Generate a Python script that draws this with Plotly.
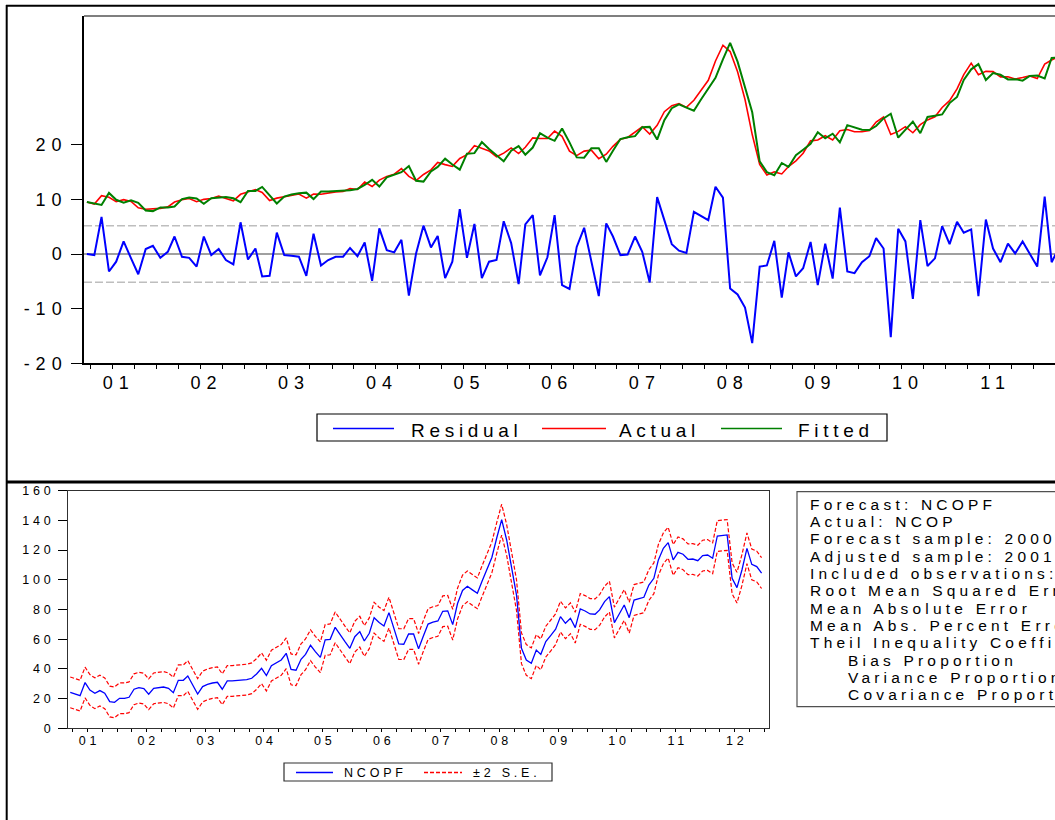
import pandas as pd
import plotly.graph_objects as go

# ---------------- data (monthly, 2001M03 ... 2012M12) ----------------
fitted = [24.2, 22.9, 22.0, 30.8, 25.8, 23.6, 25.4, 23.6, 18.0, 17.5,
          20.2, 20.2, 20.9, 26.3, 27.4, 26.7, 22.9, 26.9, 27.6, 27.8,
          26.9, 24.0, 32.3, 32.3, 35.2, 29.2, 23.1, 28.1, 29.6, 30.5,
          31.0, 26.3, 31.9, 31.9, 32.1, 32.4, 32.8, 33.7, 36.6, 40.4,
          35.5, 42.2, 44.2, 46.0, 50.5, 39.7, 39.1, 46.5, 49.8, 55.9,
          51.6, 47.8, 59.5, 59.9, 68.0, 62.9, 58.4, 53.9, 61.7, 65.1,
          58.8, 64.0, 74.5, 71.2, 68.9, 77.9, 67.8, 56.8, 56.6, 63.5,
          63.5, 53.5, 61.7, 70.2, 71.5, 72.3, 78.8, 79.1, 69.8, 84.0,
          92.8, 95.6, 93.2, 90.9, 99.0, 107.0, 115.0, 128.5, 140.5, 126.8,
          108.9, 89.8, 53.9, 46.0, 43.8, 52.7, 49.8, 58.4, 62.4, 66.7,
          75.2, 70.7, 74.1, 67.8, 80.4, 79.0, 77.0, 76.8, 79.7, 85.3,
          88.7, 71.2, 77.0, 83.0, 74.5, 86.4, 87.3, 88.2, 96.5, 101.0,
          113.4, 121.2, 125.0, 113.4, 118.5, 117.2, 113.8, 114.0, 112.9, 116.3,
          116.7, 114.5, 129.5, 129.7, 130.2, 101.0, 94.7, 106.6, 121.2, 110.4,
          108.9, 104.5]

actual = [24.2, 22.7, 28.8, 27.6, 24.4, 25.9, 24.6, 19.9, 18.9, 19.0,
          19.5, 20.6, 24.1, 25.8, 26.7, 24.4, 26.1, 26.7, 28.5, 26.7,
          25.0, 29.8, 31.3, 33.3, 31.1, 25.2, 27.0, 27.9, 29.3, 30.0,
          27.0, 30.0, 29.8, 30.8, 31.6, 31.9, 33.9, 33.3, 38.7, 35.5,
          40.2, 42.9, 44.5, 48.6, 42.9, 39.8, 44.3, 47.7, 53.1, 51.5,
          50.2, 56.0, 58.8, 65.4, 63.6, 61.5, 57.3, 59.9, 63.7, 59.6,
          64.2, 71.1, 70.6, 70.6, 76.0, 72.2, 61.4, 58.1, 61.4, 62.1,
          55.8, 59.1, 64.9, 70.0, 71.4, 75.5, 79.2, 73.9, 80.2, 90.2,
          94.6, 96.2, 93.4, 98.6, 106.0, 113.2, 127.3, 138.8, 134.2, 119.4,
          99.1, 73.5, 51.6, 43.9, 46.2, 44.7, 50.1, 54.3, 59.8, 68.9,
          69.5, 72.6, 69.6, 76.3, 77.2, 75.5, 75.5, 76.4, 82.6, 86.3,
          73.5, 75.8, 79.3, 74.8, 80.7, 84.2, 86.5, 93.3, 98.3, 106.9,
          117.3, 125.7, 117.3, 119.7, 119.5, 115.7, 115.7, 114.1, 115.2, 116.4,
          114.4, 125.0, 128.0, 130.9]

residual = [0.0, -0.2, 6.8, -3.2, -1.4, 2.3, -0.8, -3.7, 0.9, 1.5,
            -0.7, 0.4, 3.2, -0.5, -0.7, -2.3, 3.2, -0.2, 0.9, -1.1,
            -1.9, 5.8, -1.0, 1.0, -4.1, -4.0, 3.9, -0.2, -0.3, -0.5,
            -4.0, 3.7, -2.1, -1.1, -0.5, -0.5, 1.1, -0.4, 2.1, -4.9,
            4.7, 0.7, 0.3, 2.6, -7.6, 0.1, 5.2, 1.2, 3.3, -4.4,
            -1.4, 8.2, -0.7, 5.5, -4.4, -1.4, -1.1, 6.0, 2.0, -5.5,
            5.4, 7.1, -3.9, -0.6, 7.1, -5.7, -6.4, 1.3, 4.8, -1.4,
            -7.7, 5.6, 3.2, -0.2, -0.1, 3.2, 0.4, -5.2, 10.4, 6.2,
            1.8, 0.6, 0.2, 7.7, 7.0, 6.2, 12.3, 10.3, -6.3, -7.4,
            -9.8, -16.3, -2.3, -2.1, 2.4, -8.0, 0.3, -4.1, -2.6, 2.2,
            -5.7, 1.9, -4.5, 8.5, -3.2, -3.5, -1.5, -0.4, 2.9, 1.0,
            -15.2, 4.6, 2.3, -8.2, 6.2, -2.2, -0.8, 5.1, 1.8, 5.9,
            3.9, 4.5, -7.7, 6.3, 1.0, -1.5, 1.9, 0.1, 2.3, 0.1,
            -2.3, 10.5, -1.5, 1.2]

se = 5.18  # standard error (dashed lines at +/- se, forecast band +/- 2 se)

resid_ticks = [-20, -10, 0, 10, 20]
level_ticks = [0, 20, 40, 60, 80, 100, 120, 140, 160]
year_labels = ["01", "02", "03", "04", "05", "06", "07", "08", "09", "10", "11", "12"]

stats_labels = ["Forecast: NCOPF", "Actual: NCOP", "Forecast sample: 2000M",
                "Adjusted sample: 2001M", "Included observations:",
                "Root Mean Squared Error", "Mean Absolute Error",
                "Mean Abs. Percent Error", "Theil Inequality Coefficient",
                "Bias Proportion", "Variance Proportion", "Covariance Proportion"]
stats_indent = [False] * 9 + [True] * 3

# ---------------- helpers ----------------
W, H = 1055, 820
FONT = "Liberation Sans, Arial, sans-serif"


def px(x):
    return x / W


def py(y):
    return 1 - y / H


def wide(text, spacing):
    return f"<span style='letter-spacing:{spacing}px'>{text}</span>"


dates = pd.date_range("2001-03-01", periods=len(fitted), freq="MS") + pd.Timedelta(days=15)
dates = [d.strftime("%Y-%m-%d") for d in dates]
top_dates = dates[:len(residual)]
upper = [f + 2 * se for f in fitted]
lower = [f - 2 * se for f in fitted]

year_starts = [f"{2001 + i}-01-01" for i in range(13)]
top_label_pos = [f"{2001 + i}-07-27" for i in range(12)]
bot_label_pos = [f"{2001 + i}-07-14" for i in range(12)]
quarters = [f"{y}-{m:02d}-01" for y in range(2001, 2014) for m in (1, 4, 7, 10)]

TOP_RANGE = ["2001-03-04", "2012-03-30"]
BOT_RANGE = ["2001-03-02", "2013-01-31"]

BLUE, RED, GREEN = "#0000FF", "#FF0000", "#008000"

fig = go.Figure()

# ---- top panel: residual / actual / fitted ----
fig.add_trace(go.Scatter(x=top_dates, y=residual, name="Residual", mode="lines",
                         line=dict(color=BLUE, width=2), xaxis="x", yaxis="y"))
fig.add_trace(go.Scatter(x=top_dates, y=actual, name="Actual", mode="lines",
                         line=dict(color=RED, width=1.6), xaxis="x", yaxis="y2"))
fig.add_trace(go.Scatter(x=dates, y=fitted, name="Fitted", mode="lines",
                         line=dict(color=GREEN, width=2), xaxis="x", yaxis="y2"))

# ---- bottom panel: forecast with +/- 2 S.E. ----
fig.add_trace(go.Scatter(x=dates, y=upper, name="±2 S.E.", mode="lines",
                         line=dict(color=RED, width=1.2, dash="4px,2px"), xaxis="x2", yaxis="y3"))
fig.add_trace(go.Scatter(x=dates, y=lower, name="-2 S.E.", mode="lines",
                         line=dict(color=RED, width=1.2, dash="4px,2px"), xaxis="x2", yaxis="y3"))
fig.add_trace(go.Scatter(x=dates, y=fitted, name="NCOPF", mode="lines",
                         line=dict(color=BLUE, width=1.3), xaxis="x2", yaxis="y3"))

# dummy traces so the label-only overlay axes are drawn
fig.add_trace(go.Scatter(x=[dates[0]], y=[None], xaxis="x3", yaxis="y", showlegend=False, hoverinfo="skip"))
fig.add_trace(go.Scatter(x=[dates[0]], y=[None], xaxis="x4", yaxis="y3", showlegend=False, hoverinfo="skip"))

TOP_DOM_Y = [py(363.3), py(16)]
BOT_DOM_Y = [py(728.3), py(490.7)]

tick_common = dict(ticks="outside", tickcolor="black", tickwidth=1.3, showgrid=False,
                   zeroline=False, automargin=False)

fig.update_layout(
    template="none",
    width=W, height=H, autosize=False,
    margin=dict(l=0, r=0, t=0, b=0, pad=0, autoexpand=False),
    paper_bgcolor="white", plot_bgcolor="white",
    showlegend=False,
    font=dict(family=FONT, color="black"),
    xaxis=dict(domain=[px(84), 1.0], anchor="y", type="date", range=TOP_RANGE,
               tickmode="array", tickvals=year_starts, ticktext=[""] * len(year_starts),
               ticklen=7, showline=True, linecolor="black", linewidth=1.5,
               minor=dict(tickmode="array", tickvals=quarters, ticks="outside",
                          ticklen=4, tickwidth=1.3, tickcolor="black", showgrid=False),
               **tick_common),
    xaxis3=dict(overlaying="x", anchor="y", type="date", range=TOP_RANGE,
                tickmode="array", tickvals=top_label_pos,
                ticktext=[wide(t, 6) for t in year_labels],
                ticks="", showline=False, showgrid=False, zeroline=False, automargin=False,
                tickfont=dict(size=18), ticklabelstandoff=7),
    yaxis=dict(domain=TOP_DOM_Y, anchor="x", range=[-20, 43.55],
               tickmode="array", tickvals=resid_ticks,
               ticktext=[wide(str(v), 6) for v in resid_ticks],
               ticklen=11, showline=True, linecolor="black", linewidth=1.5,
               tickfont=dict(size=18), ticklabelstandoff=0, **tick_common),
    yaxis2=dict(overlaying="y", anchor="x", side="right", range=[-93.8, 160.2],
                visible=False, showgrid=False, zeroline=False, automargin=False),
    xaxis2=dict(domain=[px(68), px(769)], anchor="y3", type="date", range=BOT_RANGE,
                tickmode="array", tickvals=year_starts, ticktext=[""] * len(year_starts),
                ticklen=6, showline=True, mirror=True, linecolor="#303030", linewidth=1,
                minor=dict(tickmode="array", tickvals=quarters, ticks="outside",
                           ticklen=3, tickwidth=1.2, tickcolor="black", showgrid=False),
                **tick_common),
    xaxis4=dict(overlaying="x2", anchor="y3", type="date", range=BOT_RANGE,
                tickmode="array", tickvals=bot_label_pos,
                ticktext=[wide(t, 3.8) for t in year_labels],
                ticks="", showline=False, showgrid=False, zeroline=False, automargin=False,
                tickfont=dict(size=12.5), ticklabelstandoff=3),
    yaxis3=dict(domain=BOT_DOM_Y, anchor="x2", range=[0, 160],
                tickmode="array", tickvals=level_ticks,
                ticktext=[wide(str(v), 3.8) for v in level_ticks],
                ticklen=9, showline=True, mirror=True, linecolor="#303030", linewidth=1,
                tickfont=dict(size=12.5), ticklabelstandoff=1, **tick_common),
)

shapes = []
# reference lines in the residual panel
shapes.append(dict(type="line", xref="x domain", x0=0, x1=1, yref="y", y0=0, y1=0,
                   line=dict(color="#808080", width=1.6), layer="below"))
for s in (se, -se):
    shapes.append(dict(type="line", xref="x domain", x0=0, x1=1, yref="y", y0=s, y1=s,
                       line=dict(color="#BEBEBE", width=1.4, dash="8px,3px"), layer="below"))
# top border of the upper plot area
shapes.append(dict(type="line", xref="x domain", x0=0, x1=1, yref="y domain", y0=1, y1=1,
                   line=dict(color="black", width=1.2)))
# outer frame
shapes.append(dict(type="line", xref="paper", yref="paper", x0=px(6), x1=px(1070), y0=py(5.7), y1=py(5.7),
                   line=dict(color="black", width=2)))
shapes.append(dict(type="line", xref="paper", yref="paper", x0=px(6.7), x1=px(6.7), y0=py(5), y1=py(830),
                   line=dict(color="black", width=2)))
shapes.append(dict(type="line", xref="paper", yref="paper", x0=px(6), x1=px(1070), y0=py(482), y1=py(482),
                   line=dict(color="black", width=3)))
# top legend
shapes.append(dict(type="rect", xref="paper", yref="paper", x0=px(317), x1=px(887), y0=py(441), y1=py(414),
                   line=dict(color="black", width=1.2), fillcolor="white"))
for (x0, x1, c) in ((333, 394, BLUE), (542, 606, RED), (721, 782, GREEN)):
    shapes.append(dict(type="line", xref="paper", yref="paper", x0=px(x0), x1=px(x1), y0=py(428.5), y1=py(428.5),
                       line=dict(color=c, width=1.3)))
# bottom legend
shapes.append(dict(type="rect", xref="paper", yref="paper", x0=px(284), x1=px(552), y0=py(781), y1=py(763),
                   line=dict(color="#303030", width=1.2), fillcolor="white"))
shapes.append(dict(type="line", xref="paper", yref="paper", x0=px(296), x1=px(333), y0=py(772.5), y1=py(772.5),
                   line=dict(color=BLUE, width=1.4)))
shapes.append(dict(type="line", xref="paper", yref="paper", x0=px(424), x1=px(462), y0=py(772.5), y1=py(772.5),
                   line=dict(color=RED, width=1.4, dash="4px,2px")))
# statistics box
shapes.append(dict(type="rect", xref="paper", yref="paper", x0=px(797), x1=px(1080), y0=py(706.7), y1=py(491.7),
                   line=dict(color="#505050", width=1.2), fillcolor="white"))

annotations = []
for (x, t) in ((410, "Residual"), (618, "Actual"), (797, "Fitted")):
    annotations.append(dict(xref="paper", yref="paper", x=px(x), y=py(430), xanchor="left", yanchor="middle",
                            text=wide(t, 4.7), showarrow=False, font=dict(size=19), borderpad=0))
for (x, t) in ((343, "NCOPF"), (472, "±2 S.E.")):
    annotations.append(dict(xref="paper", yref="paper", x=px(x), y=py(772.5), xanchor="left", yanchor="middle",
                            text=wide(t, 3.8), showarrow=False, font=dict(size=12.5), borderpad=0))
for i, (t, ind) in enumerate(zip(stats_labels, stats_indent)):
    annotations.append(dict(xref="paper", yref="paper", x=px(847 if ind else 809), y=py(504.3 + 17.3 * i),
                            xanchor="left", yanchor="middle", text=wide(t, 4.2), showarrow=False,
                            font=dict(size=15.5), borderpad=0))

fig.update_layout(shapes=shapes, annotations=annotations)
fig.write_html("out.html",
               config={"displayModeBar": False},
               post_script="document.body.style.margin='0px';document.body.style.overflow='hidden';")
